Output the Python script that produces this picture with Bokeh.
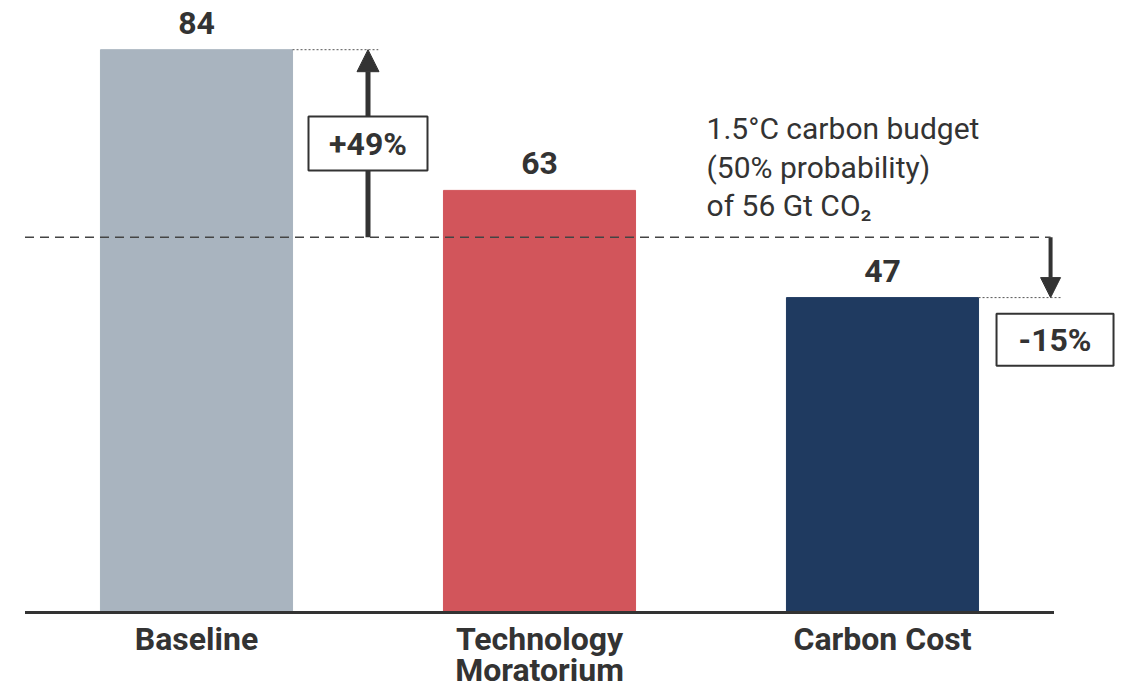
from bokeh.plotting import figure
from bokeh.models import Range1d, Arrow, NormalHead, ColumnDataSource
from bokeh.core.properties import value
from bokeh.embed import file_html
from bokeh.resources import INLINE

# Cumulative emissions by scenario (Gt CO2)
categories = ["Baseline", "Technology\nMoratorium", "Carbon Cost"]
emissions = [84, 63, 47]
colors = ["#A9B4BF", "#D2555B", "#1F3A60"]
budget = 56
budget_label = ["1.5°C carbon budget", "(50% probability)", "of 56 Gt CO₂"]
over_label = "+49%"
under_label = "-15%"

W, H = 1127, 688
px_per_unit = 6.7
zero_px = 612
bar_spacing = 343.0
first_center = 196.0

xs = list(range(len(categories)))
p = figure(width=W, height=H, output_backend="svg", toolbar_location=None,
           x_range=Range1d(-first_center / bar_spacing, (W - first_center) / bar_spacing),
           y_range=Range1d(-(H - zero_px) / px_per_unit, zero_px / px_per_unit),
           min_border=0, outline_line_color=None)
p.axis.visible = False
p.grid.visible = False
p.background_fill_color = "white"

FONT = value("Roboto")
DARK = "#333333"

# bars with value labels
src = ColumnDataSource(dict(x=xs, top=emissions, color=colors,
                            label=[str(v) for v in emissions]))
p.vbar(x="x", top="top", bottom=0, width=0.56, color="color", source=src)
p.text(x="x", y="top", text="label", source=src, text_font=FONT,
       text_font_style="bold", text_font_size="32px", text_color=DARK,
       text_align="center", text_baseline="middle", y_offset=-27)

# baseline axis
p.segment(x0=[-0.5], y0=[0], x1=[2.5], y1=[0], line_color=DARK, line_width=3)

# category labels (two lines at most)
line1 = [c.split("\n")[0] for c in categories]
line2 = [c.split("\n")[1] if "\n" in c else "" for c in categories]
p.text(x=xs, y=[0] * 3, text=line1, text_font=FONT, text_font_style="bold",
       text_font_size="32px", text_color=DARK, text_align="center",
       text_baseline="middle", y_offset=26)
p.text(x=xs, y=[0] * 3, text=line2, text_font=FONT, text_font_style="bold",
       text_font_size="32px", text_color=DARK, text_align="center",
       text_baseline="middle", y_offset=57)

# carbon budget reference line
x_end = 2.49
p.segment(x0=[-0.5], y0=[budget], x1=[x_end], y1=[budget], line_color="#444444",
          line_width=1.6, line_dash="9 6")
p.text(x=[1.487] * 3, y=[budget] * 3, text=budget_label, text_font=FONT,
       text_font_size="30px", text_color=DARK, text_align="left",
       text_baseline="middle", y_offset=[-109, -70, -32])

# dotted guides from bar tops
p.segment(x0=[0.28, 2.28], y0=[emissions[0], emissions[2]],
          x1=[0.53, 2.52], y1=[emissions[0], emissions[2]],
          line_color="#555555", line_width=1, line_dash="2 2")

# over-budget arrow with label box
x_up = 0.5
p.add_layout(Arrow(x_start=x_up, y_start=budget, x_end=x_up, y_end=emissions[0],
                   line_color=DARK, line_width=5, level="underlay",
                   end=NormalHead(size=22, fill_color=DARK, line_color=DARK)))
p.rect(x=[x_up], y=[(budget + emissions[0]) / 2], width=119, height=54,
       width_units="screen", height_units="screen", fill_color="white",
       line_color=DARK, line_width=2)
p.text(x=[x_up], y=[(budget + emissions[0]) / 2], text=[over_label], text_font=FONT,
       text_font_style="bold", text_font_size="32px", text_color=DARK,
       text_align="center", text_baseline="middle")

# under-budget arrow with label box
p.add_layout(Arrow(x_start=x_end, y_start=budget, x_end=x_end, y_end=emissions[2],
                   line_color=DARK, line_width=4, level="underlay",
                   end=NormalHead(size=20, fill_color=DARK, line_color=DARK)))
box_y = emissions[2] - 6.3
p.rect(x=[2.503], y=[box_y], width=117, height=52, width_units="screen",
       height_units="screen", fill_color="white", line_color=DARK, line_width=2)
p.text(x=[2.503], y=[box_y], text=[under_label], text_font=FONT,
       text_font_style="bold", text_font_size="32px", text_color=DARK,
       text_align="center", text_baseline="middle")

open("out.html", "w").write(file_html(p, INLINE))
